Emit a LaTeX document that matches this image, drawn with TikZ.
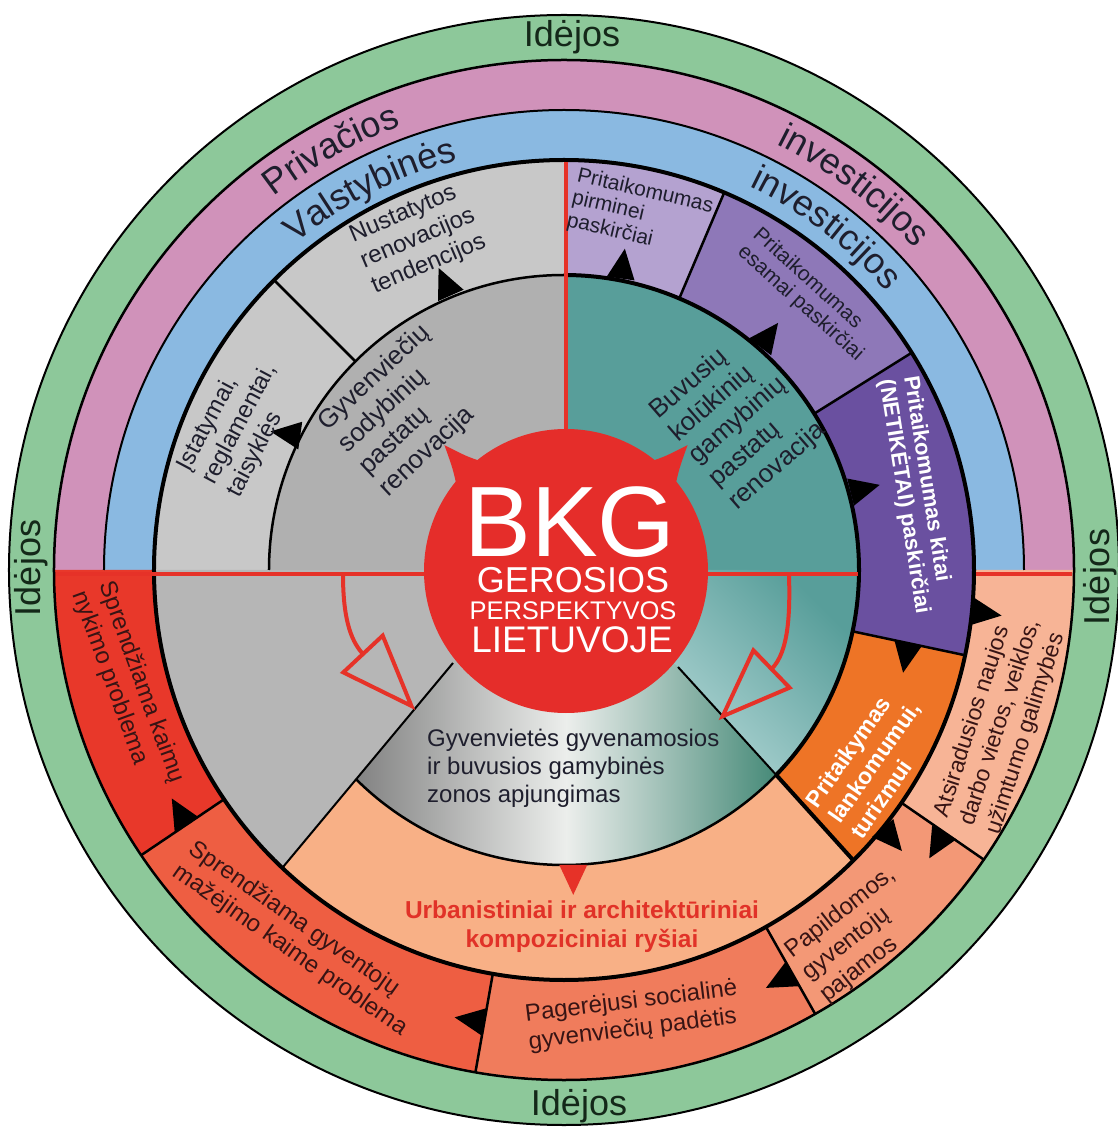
\documentclass[tikz,border=0pt]{standalone}
\usepackage{fontspec}
\setmainfont{Liberation Sans}
\usetikzlibrary{calc,decorations.text}
\definecolor{greenR}{RGB}{141,200,154}
\definecolor{pinkR}{RGB}{208,146,186}
\definecolor{blueR}{RGB}{138,185,225}
\definecolor{grayOut}{RGB}{200,200,200}
\definecolor{grayIn}{RGB}{176,176,176}
\definecolor{grayLL}{RGB}{182,182,182}
\definecolor{tealD}{RGB}{88,158,154}
\definecolor{tealL}{RGB}{200,228,228}
\definecolor{lavA}{RGB}{180,162,208}
\definecolor{lavB}{RGB}{142,120,184}
\definecolor{lavC}{RGB}{106,80,160}
\definecolor{orangeS}{RGB}{238,116,38}
\definecolor{salmonU}{RGB}{248,176,134}
\definecolor{redA}{RGB}{232,56,42}
\definecolor{redB}{RGB}{238,94,66}
\definecolor{redC}{RGB}{240,124,92}
\definecolor{redD}{RGB}{243,152,118}
\definecolor{redE}{RGB}{247,180,150}
\definecolor{bkgRed}{RGB}{229,45,42}
\definecolor{lineRed}{RGB}{230,50,40}
\definecolor{txtD}{RGB}{30,30,45}
\definecolor{txtR}{RGB}{55,20,20}
\definecolor{txtG}{RGB}{20,40,25}
\definecolor{urbRed}{RGB}{225,50,40}
\definecolor{gyL}{RGB}{130,130,130}
\definecolor{gyM}{RGB}{236,238,236}
\definecolor{gyR}{RGB}{70,138,120}
\newcommand{\annsec}[5]{\fill[#1] (#2:#4) arc[start angle=#2, end angle=#3, radius=#4] -- (#3:#5) arc[start angle=#3, end angle=#2, radius=#5] -- cycle;}
\newcommand{\btri}[3]{\fill[#3] ($(#1)+({#2}:30)$) -- ($(#1)+({#2+90}:14)$) -- ($(#1)+({#2-90}:14)$) -- cycle;}
\newcommand{\ringfmt}{\color{txtD}\fontsize{36}{36}\selectfont}
\tikzset{
 segtext/.style={font=\fontsize{24}{28}\selectfont, align=left, text=txtD, inner sep=0pt},
 redtext/.style={segtext, text=txtR},
 whitebold/.style={font=\bfseries\fontsize{22}{25}\selectfont, align=left, text=white, inner sep=0pt},
 bkgtext/.style={text=white, inner sep=0pt},
 idtext/.style={font=\fontsize{36}{36}\selectfont, text=txtG, inner sep=0pt},
 blackline/.style={draw=black, line width=2.5pt},
 thickline/.style={draw=black, line width=4pt},
 redline/.style={draw=lineRed, line width=3.2pt},
 redarrow/.style={draw=lineRed, line width=4pt, line join=miter},
}
\begin{document}
\begin{tikzpicture}[x=1pt,y=1pt]
\useasboundingbox (-564,-559) rectangle (553,570);
% outer green
\fill[greenR] (0,0) circle[radius=555];
% upper rings
\annsec{pinkR}{0}{180}{460}{510}
\annsec{blueR}{0}{180}{410}{460}
% lower outer ring
\annsec{redA}{180}{214}{410}{510}
\annsec{redB}{214}{260}{410}{510}
\annsec{redC}{260}{299.5}{410}{510}
\annsec{redD}{299.5}{325.4}{410}{510}
\annsec{redE}{325.4}{360}{410}{510}
% inner ring
\annsec{grayOut}{90}{180}{295}{410}
\annsec{lavA}{67}{90}{295}{410}
\annsec{lavB}{32}{67}{295}{410}
\annsec{lavC}{-12}{32}{295}{410}
\fill[orangeS] (-12:295) arc[start angle=-12, end angle=-44, radius=295] -- (-45.1:410) arc[start angle=-45.1, end angle=-12, radius=410] -- cycle;
\fill[salmonU] (225.1:295) -- (226.6:410) arc[start angle=226.6, end angle=314.9, radius=410] -- (316:295) arc[start angle=316, end angle=225.1, radius=295] -- cycle;
% disc
\fill[grayIn] (0,0) -- (90:295) arc[start angle=90, end angle=180, radius=295] -- cycle;
\fill[tealD] (0,0) -- (0:295) arc[start angle=0, end angle=90, radius=295] -- cycle;
\fill[grayLL] (0,0) -- (180:410) arc[start angle=180, end angle=226.6, radius=410] -- (-111,-93) -- cycle;
\shade[top color=tealD, bottom color=tealL, shading angle=-45] (0,0) -- (0:295) arc[start angle=0, end angle=-44, radius=295] -- (114,-97) -- cycle;
\shade[left color=gyL, right color=gyR, middle color=gyM] (-111,-93) -- (225.1:295) arc[start angle=225.1, end angle=316, radius=295] -- (114,-97) -- (0,0) -- cycle;
% circles and arcs
\draw[line width=2pt] (0,0) circle[radius=555];
\draw[blackline] (0,0) circle[radius=510];
\draw[line width=2pt] (0:460) arc[start angle=0, end angle=180, radius=460];
\draw[thickline] (0,0) circle[radius=410];
\draw[blackline] (90:295) arc[start angle=90, end angle=180, radius=295];
\draw[thickline] (-44:295) arc[start angle=-44, end angle=90, radius=295];
\draw[blackline] (225.1:295) arc[start angle=225.1, end angle=316, radius=295];
% dividers
\foreach \a in {135,67,32,-12} \draw[blackline] (\a:295) -- (\a:410);
\foreach \a in {214,260,299.5,325.4} \draw[blackline] (\a:410) -- (\a:510);
\draw[thickline] (-44:295) -- (-45.1:410);
\draw[line width=2pt] (114,-97) -- (-44:295);
\draw[line width=2pt] (-111,-93) -- (226.6:410);
% red lines
\coordinate (bc) at (2,-1);
\coordinate (vt) at (2,408);
\coordinate (hl) at (-508,-4);
\coordinate (hc) at (0,-4);
\coordinate (hr1) at (294,-4);
\coordinate (hr2) at (412,-4);
\coordinate (hr3) at (508,-4);
\draw[redline] (vt) -- (bc);
\draw[redline] (hl) -- (hc) -- (hr1);
\draw[redline] (hr2) -- (hr3);
% BKG circle with horns
\fill[bkgRed] (bc) circle[radius=142];
\fill[bkgRed] ($(bc)+(143:136)$) .. controls ($(bc)+(138:152)$) .. ($(bc)+(134:175)$) .. controls ($(bc)+(131:152)$) .. ($(bc)+(127:136)$) -- cycle;
\fill[bkgRed] ($(bc)+(37:136)$) .. controls ($(bc)+(42:152)$) .. ($(bc)+(46:175)$) .. controls ($(bc)+(49:152)$) .. ($(bc)+(53:136)$) -- cycle;
% black arrowheads
\btri{112.4:297}{114}{black}
\btri{153:296}{172}{black}
\btri{79:297}{82}{black}
\btri{48.7:297}{53}{black}
\btri{15.2:297}{14}{black}
\btri{-5.8:410}{-8}{black}
\btri{-12:352}{-100}{black}
\btri{-39:410}{-50}{black}
\btri{-34.6:462}{-120}{black}
\btri{-60.5:464}{-152}{black}
\btri{260:459}{171}{black}
\btri{214:455}{120}{black}
\btri{-88.2:295}{-90}{lineRed}
% red hollow arrows
\coordinate (la0) at (-221,-4);
\coordinate (la1) at (-201,-84);
\coordinate (laA) at (-181.3,-65.6);
\coordinate (laT) at (-152.6,-135.9);
\coordinate (laB) at (-220.7,-102.4);
\draw[redarrow] (la0) .. controls (-221,-45) and (-214.6,-69.4) .. (la1);
\draw[redarrow] (laA) -- (laT) -- (laB) -- cycle;
\coordinate (ra0) at (225,-4);
\coordinate (ra1) at (207.5,-99);
\coordinate (raA) at (189.4,-80.3);
\coordinate (raT) at (158.6,-146.3);
\coordinate (raB) at (225.6,-117.7);
\draw[redarrow] (ra0) .. controls (226,-40) and (225.5,-81.6) .. (ra1);
\draw[redarrow] (raA) -- (raT) -- (raB) -- cycle;
% ring texts
\path[decorate, decoration={text along path, text={|\ringfmt|Privačios}, text align=center}] (140:473) arc[start angle=140, end angle=98, radius=473];
\path[decorate, decoration={text along path, text={|\ringfmt|investicijos}, text align=center}] (78:476) arc[start angle=78, end angle=28, radius=476];
\path[decorate, decoration={text along path, text={|\ringfmt|Valstybinės}, text align=center}] (142:423) arc[start angle=142, end angle=92, radius=423];
\path[decorate, decoration={text along path, text={|\ringfmt|investicijos}, text align=center}] (80:426) arc[start angle=80, end angle=25, radius=426];
\node[idtext] (idt) at (8,533) {Idėjos};
\node[idtext, rotate=90] (idl) at (-533,2) {Idėjos};
\node[idtext, rotate=90] (idr) at (536,-7) {Idėjos};
\node[idtext] (idb) at (15,-536) {Idėjos};
% segment texts
\node[segtext, rotate=23] (nust) at (-146,331) {Nustatytos\\renovacijos\\tendencijos};
\node[segtext, rotate=62] (ista) at (-324,146) {Įstatymai,\\reglamentai,\\taisyklės};
\node[segtext, font=\fontsize{26}{30}\selectfont, rotate=43] (gyv) at (-159,159) {Gyvenviečių\\sodybinių\\pastatų\\renovacija};
\node[segtext, font=\fontsize{26}{30}\selectfont, rotate=41] (buv) at (174,149) {Buvusių\\kolūkinių\\gamybinių\\pastatų\\renovacija};
\node[segtext, font=\fontsize{21}{23}\selectfont, rotate=-13] (pirm) at (76,356) {Pritaikomumas\\pirminei\\paskirčiai};
\node[segtext, font=\fontsize{21}{23}\selectfont, rotate=-42] (esam) at (244,275) {Pritaikomumas\\esamai paskirčiai};
\node[whitebold, rotate=-81] (kitai) at (352,75) {Pritaikomumas kitai\\(NETIKĖTAI) paskirčiai};
\node[whitebold, font=\bfseries\fontsize{23}{27}\selectfont, rotate=55] (lank) at (310,-192) {Pritaikymas\\lankomumui,\\turizmui};
\node[font=\bfseries\fontsize{24.5}{29}\selectfont, text=urbRed, align=center, inner sep=0pt] (urb) at (18,-357) {Urbanistiniai ir architektūriniai\\kompoziciniai ryšiai};
\node[segtext, anchor=west] (gyvz) at (-137,-198) {Gyvenvietės gyvenamosios\\ir buvusios gamybinės\\zonos apjungimas};
\node[redtext, rotate=-70] (nyk) at (-436,-117) {Sprendžiama kaimų\\nykimo problema};
\node[redtext, rotate=-35] (maz) at (-266,-369) {Sprendžiama gyventojų\\mažėjimo kaime problema};
\node[redtext, rotate=7] (pag) at (69,-446) {Pagerėjusi socialinė\\gyvenviečių padėtis};
\node[redtext, rotate=38] (papi) at (294,-365) {Papildomos,\\gyventojų\\pajamos};
\node[redtext, font=\fontsize{23}{27}\selectfont, rotate=72] (atsi) at (437,-153) {Atsiradusios naujos\\darbo vietos, veiklos,\\užimtumo galimybės};
% BKG texts
\node[bkgtext, font=\fontsize{100}{100}\selectfont] (bkg) at (6,48) {BKG};
\node[bkgtext, font=\fontsize{36}{36}\selectfont] (ger) at (9,-10) {GEROSIOS};
\node[bkgtext, font=\fontsize{25.5}{26}\selectfont] (per) at (9,-41) {PERSPEKTYVOS};
\node[bkgtext, font=\fontsize{37}{37}\selectfont] (lie) at (8,-70) {LIETUVOJE};
\end{tikzpicture}
\end{document}
